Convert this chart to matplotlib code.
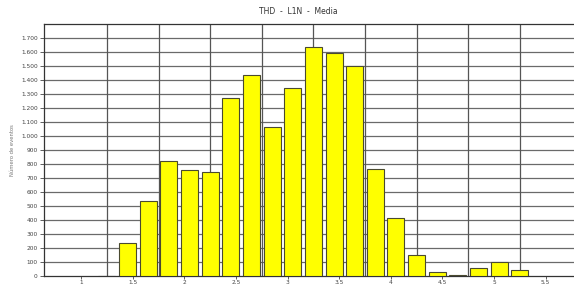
import matplotlib
matplotlib.use("Agg")
import matplotlib.pyplot as plt
from matplotlib.ticker import FuncFormatter

# THD histogram data (bin centers and event counts)
bin_centers = [1.25, 1.45, 1.65, 1.85, 2.05, 2.25, 2.45, 2.65, 2.85, 3.05, 3.25,
               3.45, 3.65, 3.85, 4.05, 4.25, 4.45, 4.65, 4.85, 5.05, 5.25]
counts = [3, 233, 538, 821, 755, 740, 1273, 1436, 1067, 1340, 1638,
          1590, 1500, 762, 417, 150, 31, 9, 60, 100, 40]
x_ticks = [1, 1.5, 2, 2.5, 3, 3.5, 4, 4.5, 5, 5.5]
x_tick_labels = ["1", "1.5", "2", "2.5", "3", "3.5", "4", "4.5", "5", "5.5"]
x_grid = [1.25, 1.75, 2.25, 2.75, 3.25, 3.75, 4.25, 4.75, 5.25]

fig = plt.figure(figsize=(5.74, 2.87), dpi=100)
ax = fig.add_axes([44 / 574, 1 - 276 / 287, (574 - 44) / 574, (276 - 24) / 287])

ax.bar(bin_centers, counts, width=0.165, color="#FFFF00",
       edgecolor="#4a4a30", linewidth=0.8, zorder=3)

ax.set_xlim(0.64, 5.775)
ax.set_ylim(0, 1800)

# grid
ax.set_yticks(range(0, 1701, 100))
for y in range(100, 1800, 100):
    ax.axhline(y, color="#6a6a6a", lw=0.9, zorder=1)
for xg in x_grid:
    ax.axvline(xg, color="#555555", lw=0.9, zorder=1)

ax.yaxis.set_major_formatter(FuncFormatter(lambda v, p: f"{int(v):,}".replace(",", ".")))
ax.set_xticks(x_ticks)
ax.set_xticklabels(x_tick_labels)

ax.tick_params(axis="y", labelsize=4.2, colors="#444444", length=3, width=0.6,
               pad=1.5)
ax.tick_params(axis="x", labelsize=4.2, colors="#444444", length=2, width=0.6,
               pad=0.8)

for side in ["left", "top", "bottom"]:
    ax.spines[side].set_color("#333333")
    ax.spines[side].set_linewidth(0.9)
ax.spines["right"].set_visible(False)

ax.set_ylabel("Número de eventos", fontsize=3.8, color="#777777", labelpad=4)

fig.text(298 / 574, 1 - 12 / 287, "THD  -  L1N  -  Media", ha="center", va="center",
         fontsize=5.5, color="#333333")

fig.savefig("out.png", dpi=100)
